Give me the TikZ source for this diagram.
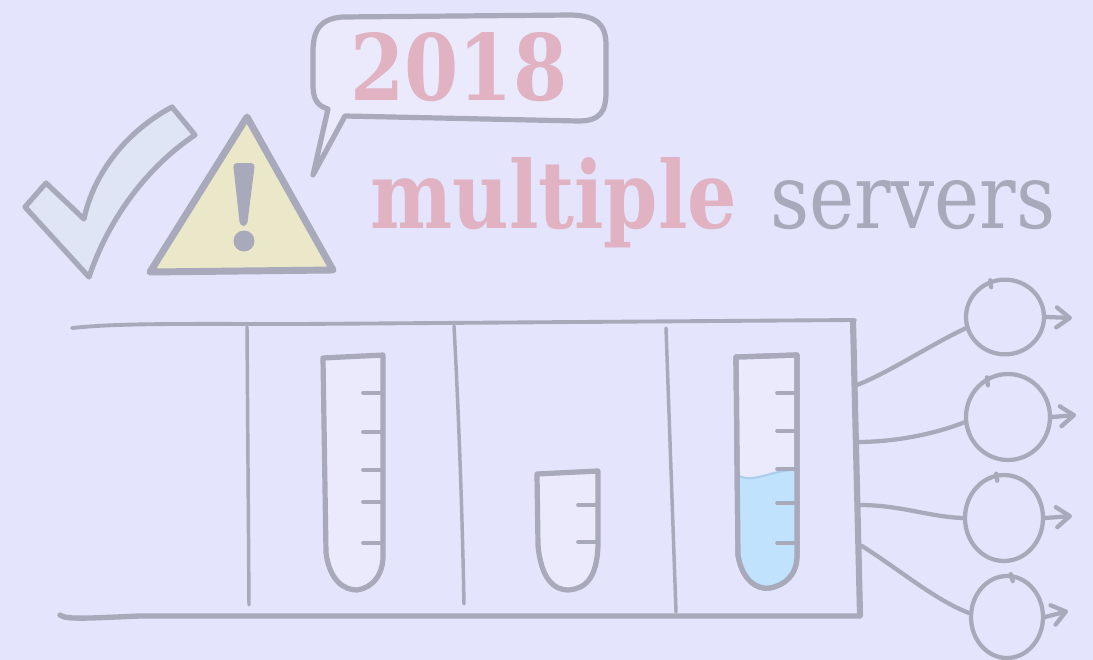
\documentclass[tikz,border=0pt]{standalone}
\usepackage{fontspec}
\usepackage{graphicx}
\newfontfamily\dserif{DejaVu Serif}
\usetikzlibrary{shapes.geometric,arrows.meta}
\definecolor{bg}{RGB}{228,228,252}
\definecolor{ink}{RGB}{168,169,186}
\definecolor{rose}{RGB}{224,178,194}
\definecolor{checkfill}{RGB}{223,229,245}
\definecolor{warnfill}{RGB}{234,232,200}
\definecolor{glass}{RGB}{234,234,252}
\definecolor{liquid}{RGB}{193,226,252}
\definecolor{surface}{RGB}{170,205,235}
\begin{document}
\begin{tikzpicture}[x=0.75pt, y=-0.75pt, line cap=round, line join=round,
  pen/.style={draw=ink, line width=#1},
  tube/.style={draw=ink, fill=glass, line width=3.9pt},
  tick/.style={draw=ink, line width=2.7pt},
  server/.style={ellipse, draw=ink, line width=3.2pt, inner sep=0pt},
  wire/.style={draw=ink, line width=3.2pt},
  out arrow/.style={draw=ink, line width=3.2pt, -{Straight Barb[length=10pt, width=15pt, round]}},
  word/.style={anchor=base west, inner sep=0pt}]

% canvas
\fill[bg] (0,0) rectangle (1093,660);
\useasboundingbox (0,0) rectangle (1093,660);

% check mark
\path[pen=3.9pt, fill=checkfill]
  (25,207) -- (46,183) -- (84,219)
  .. controls (92,180) and (120,135) .. (172,107)
  -- (195,135)
  .. controls (150,165) and (110,215) .. (89,277) -- cycle;

% warning sign
\path[pen=5.2pt, fill=warnfill] (247,117) -- (333,270) -- (150,272) -- cycle;
\fill[ink, rounded corners=3pt] (233,163) -- (255,163) -- (247,226) -- (240,226) -- cycle;
\fill[ink] (244,241) circle (10.5);

% speech bubble
\path[pen=3.9pt, fill=glass]
  (345,116) -- (578,121)
  .. controls (600,121) and (606,112) .. (606,92)
  -- (606,45)
  .. controls (606,24) and (596,16) .. (572,15)
  -- (342,17)
  .. controls (320,19) and (313,30) .. (313,52)
  -- (313,85)
  .. controls (313,100) and (318,106) .. (328,109)
  -- (313,175) -- cycle;
\node[word] (year) at (350,101)
  {\resizebox{162.75pt}{51pt}{\color{rose}\dserif\bfseries 2018}};

% title
\node[word] (multi) at (370,228)
  {\resizebox{275.25pt}{53.25pt}{\color{rose}\dserif\bfseries multiple}};
\node[word] (serv) at (770,228)
  {\resizebox{213.75pt}{36pt}{\color{ink}\dserif servers}};

% rack frame
\draw[pen=2.9pt] (72,328) .. controls (120,323) and (180,324) .. (300,324) -- (855,320);
\draw[pen=4pt] (60,615) .. controls (66,620) and (90,618) .. (140,616) -- (860,616);
\draw[pen=4.6pt] (853,321) -- (860,615);
\draw[pen=2.6pt] (247,327) -- (249,605);
\draw[pen=2.6pt] (454,326) .. controls (458,400) and (462,500) .. (464,604);
\draw[pen=2.6pt] (666,328) -- (676,612);

% tube 1
\path[tube] (323,358) -- (326,553)
  .. controls (330,582) and (345,590) .. (357,590)
  .. controls (372,588) and (384,575) .. (383,553) -- (383,355) -- cycle;
\foreach \y in {393,432,470,502,543} \draw[tick] (363,\y) -- (383,\y);

% tube 2
\path[tube] (537,474) -- (538,545)
  .. controls (541,580) and (555,590) .. (568,590)
  .. controls (584,589) and (597,580) .. (598,545) -- (598,471) -- cycle;
\foreach \y in {505,542} \draw[tick] (578,\y) -- (598,\y);

% tube 3 with liquid
\path[tube] (736,357) -- (738,555)
  .. controls (742,580) and (757,590) .. (770,588)
  .. controls (785,585) and (797,575) .. (797,555) -- (797,355) -- cycle;
\fill[liquid] (738,476) .. controls (755,483) and (772,470) .. (797,470)
  -- (797,555)
  .. controls (797,575) and (785,585) .. (770,588)
  .. controls (757,590) and (742,580) .. (738,555) -- cycle;
\draw[surface, line width=1.5pt] (739,476) .. controls (755,483) and (772,470) .. (795,470);
\path[draw=ink, line width=3.9pt] (736,357) -- (738,555)
  .. controls (742,580) and (757,590) .. (770,588)
  .. controls (785,585) and (797,575) .. (797,555) -- (797,355) -- cycle;
\foreach \y in {393,431,469,503,543} \draw[tick] (777,\y) -- (797,\y);

% servers
\node[server, minimum width=58.5pt, minimum height=56pt] (c1) at (1005,317) {};
\node[server, minimum width=63pt, minimum height=64.5pt] (c2) at (1008,417) {};
\node[server, minimum width=58.5pt, minimum height=64.5pt] (c3) at (1004,518) {};
\node[server, minimum width=54pt, minimum height=61.5pt] (c4) at (1007,617) {};
\draw[wire] (c1.112) -- ++(1,7);
\draw[wire] (c2.118) -- ++(1,8);
\draw[wire] (c3.100) -- ++(1,7);
\draw[wire] (c4.85) -- ++(2,7);

% rack ports
\coordinate (p1) at (857,385);
\coordinate (p2) at (857,442);
\coordinate (p3) at (860,505);
\coordinate (p4) at (862,546);
\draw[wire] (p1) .. controls (890,372) and (930,345) .. (c1.196);
\draw[wire] (p2) .. controls (900,442) and (940,432) .. (c2.187);
\draw[wire] (p3) .. controls (900,505) and (930,517) .. (c3.180);
\draw[wire] (p4) .. controls (900,570) and (935,600) .. (c4.174);

% outgoing arrows
\coordinate (o1) at (1072,318);
\coordinate (o2) at (1076,415);
\coordinate (o3) at (1072,516);
\coordinate (o4) at (1068,611);
\draw[out arrow] (c1.east) -- (o1);
\draw[out arrow] (c2.east) -- (o2);
\draw[out arrow] (c3.east) -- (o3);
\draw[out arrow] (c4.east) -- (o4);
\end{tikzpicture}
\end{document}
